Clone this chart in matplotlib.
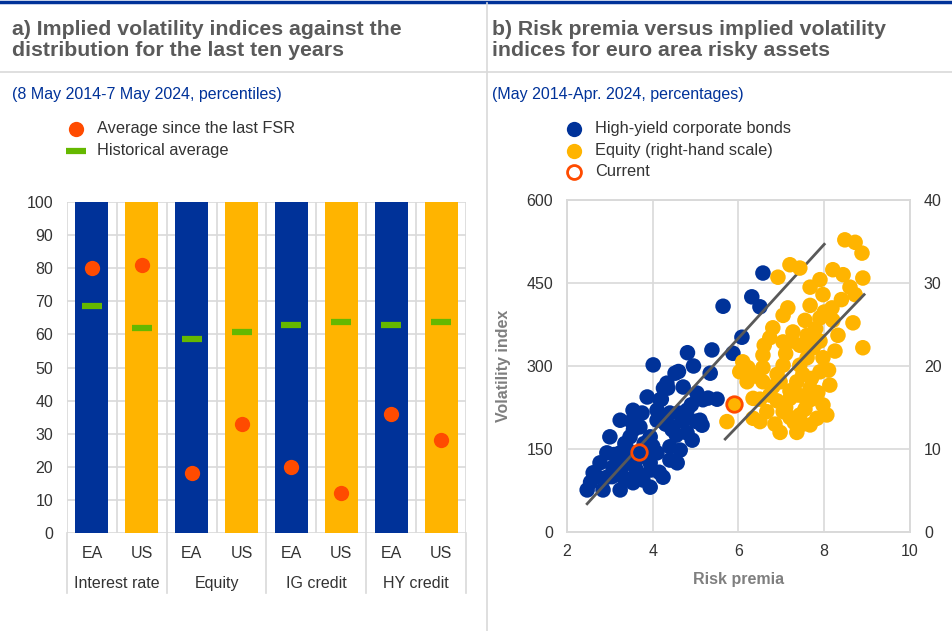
import matplotlib
matplotlib.use("Agg")
import matplotlib.pyplot as plt
from matplotlib.lines import Line2D
import matplotlib.transforms as mtransforms

plt.rcParams['font.family'] = ['Liberation Sans', 'DejaVu Sans']

# ---------------- data: panel a ----------------
bar_labels = ["EA", "US", "EA", "US", "EA", "US", "EA", "US"]
groups = ["Interest rate", "Equity", "IG credit", "HY credit"]
bar_full = [100, 100, 100, 100, 100, 100, 100, 100]
avg_since_fsr = [80, 81, 18, 33, 20, 12, 36, 28]
hist_avg = [68.5, 61.8, 58.6, 60.6, 62.9, 63.7, 62.9, 63.7]

# ---------------- data: panel b ----------------
hy_x = [6.57, 5.64, 6.31, 6.50, 6.08, 5.38, 5.87, 4.81, 5.34, 4.01,
        4.52, 4.71, 4.33, 5.03, 5.17, 5.29, 3.87, 4.80, 3.54, 4.10,
        4.40, 5.10, 5.15, 3.24, 3.70, 4.10, 4.47, 4.80, 4.92, 3.00,
        3.47, 3.94, 4.40, 4.64, 2.93, 3.24, 4.10, 4.40, 4.57, 2.77,
        3.07, 3.47, 3.94, 4.24, 2.61, 2.93, 3.31, 3.63, 3.94, 2.47,
        2.84, 3.24, 3.54, 3.77, 4.17, 3.90, 3.70, 3.80, 4.25, 4.60,
        4.95, 5.50, 3.40, 4.20, 3.60, 4.45, 3.15, 2.70, 3.10, 3.35,
        3.55, 3.75, 4.30, 4.55, 3.30, 3.60, 4.00, 4.25, 4.60, 4.90,
        3.05, 3.45, 3.85, 4.35, 5.00, 2.55, 3.95, 4.15, 3.50, 4.70]
hy_y = [468, 408, 425, 407, 352, 329, 323, 324, 287, 302,
        287, 262, 269, 251, 239, 242, 244, 220, 220, 220,
        215, 202, 193, 202, 190, 202, 190, 179, 166, 172,
        172, 172, 154, 148, 143, 143, 143, 130, 125, 125,
        117, 125, 125, 99, 107, 99, 99, 107, 81, 76,
        76, 76, 89, 94, 239, 160, 140, 160, 260, 290,
        300, 240, 150, 240, 130, 185, 110, 100, 140, 160,
        185, 215, 195, 175, 120, 115, 155, 210, 215, 230,
        100, 95, 135, 260, 200, 90, 112, 108, 200, 200]

eq_x = [8.48, 8.72, 8.88, 7.20, 7.43, 6.92, 8.90, 8.20, 8.44, 7.90,
        7.67, 8.60, 7.97, 8.72, 7.67, 8.18, 7.90, 8.67, 7.04, 6.80,
        7.27, 7.60, 8.32, 8.90, 6.73, 7.04, 6.57, 7.43, 7.74, 7.97,
        6.22, 6.57, 7.04, 7.43, 7.90, 8.13, 6.20, 6.57, 6.97, 7.36,
        7.67, 6.34, 6.73, 7.20, 7.60, 7.97, 6.34, 6.66, 7.04, 7.43,
        7.83, 5.73, 6.50, 6.97, 7.36, 7.67, 8.06, 6.03, 7.20, 7.50,
        7.10, 7.80, 8.40, 7.30, 6.90, 7.60, 8.20, 7.70, 6.50, 6.80,
        7.10, 7.40, 7.70, 6.60, 7.25, 7.90, 8.10, 6.85, 7.50, 6.40,
        7.55, 8.00, 7.15, 7.20, 7.55, 6.90, 7.85, 6.10, 8.25]
eq_y = [35.2, 34.9, 33.6, 32.2, 31.8, 30.7, 30.6, 31.6, 31.0, 30.4,
        29.5, 29.5, 28.6, 28.6, 27.3, 27.0, 25.8, 25.2, 26.1, 24.6,
        24.1, 23.7, 23.7, 22.2, 23.4, 22.9, 21.3, 22.5, 22.2, 21.0,
        19.8, 19.8, 20.1, 20.1, 19.3, 17.7, 18.1, 18.1, 18.1, 18.1,
        17.3, 16.1, 16.5, 16.1, 15.7, 15.3, 13.7, 14.5, 14.5, 14.1,
        13.7, 13.3, 13.3, 12.0, 12.0, 12.9, 14.1, 19.3, 17.0, 19.0,
        21.5, 24.5, 28.0, 13.2, 19.0, 21.0, 25.5, 16.0, 16.0, 17.5,
        15.0, 16.5, 18.5, 22.5, 23.0, 23.0, 19.5, 13.0, 13.0, 18.8,
        25.5, 26.5, 27.0, 13.8, 14.8, 15.8, 16.8, 20.5, 21.8]

hy_current = (3.68, 145)
eq_current = (5.90, 15.4)
hy_fit_x = [2.47, 8.00]
hy_fit_y = [51, 520]
eq_fit_x = [5.69, 8.93]
eq_fit_y = [11.2, 28.6]

# ---------------- styling ----------------
NAVY = "#003299"
YELLOW = "#FFB400"
ORANGE = "#FF4B00"
GREEN = "#65B800"
GRID = "#D9D9D9"
TXT = "#333333"
TITLE = "#5A5A5A"

W, H = 953, 631
fig = plt.figure(figsize=(W / 100, H / 100), dpi=100)

def fx(px):
    return px / W

def fy(py):
    return 1 - py / H

# frame lines
fig.add_artist(Line2D([0, 1], [fy(1.5), fy(1.5)], color=NAVY, lw=2.5, transform=fig.transFigure))
fig.add_artist(Line2D([0, 1], [fy(72), fy(72)], color=GRID, lw=1.2, transform=fig.transFigure))
fig.add_artist(Line2D([fx(487), fx(487)], [fy(3), fy(631)], color=GRID, lw=1.2, transform=fig.transFigure))

# titles
fig.text(fx(12), fy(40), "a) Implied volatility indices against the\ndistribution for the last ten years",
         fontsize=15.3, fontweight='bold', color=TITLE, va='center', ha='left', linespacing=1.15)
fig.text(fx(492), fy(40), "b) Risk premia versus implied volatility\nindices for euro area risky assets",
         fontsize=15.3, fontweight='bold', color=TITLE, va='center', ha='left', linespacing=1.15)
fig.text(fx(12), fy(95), "(8 May 2014-7 May 2024, percentiles)", fontsize=11.5, color=NAVY, va='center')
fig.text(fx(492), fy(95), "(May 2014-Apr. 2024, percentages)", fontsize=11.5, color=NAVY, va='center')

# ---------------- panel a ----------------
ax1 = fig.add_axes([fx(67), fy(533), fx(466) - fx(67), fy(202) - fy(533)])
xpos = list(range(len(bar_labels)))
colors = [NAVY if l == "EA" else YELLOW for l in bar_labels]
ax1.bar(xpos, bar_full, width=0.66, color=colors, zorder=2)
ax1.plot(xpos, hist_avg, linestyle='none', marker='_', markersize=14, mew=4.5,
         color=GREEN, zorder=3)
ax1.plot(xpos, avg_since_fsr, linestyle='none', marker='o', markersize=11,
         color=ORANGE, mec='none', zorder=4)
ax1.set_xlim(-0.5, len(xpos) - 0.5)
ax1.set_ylim(0, 100)
ax1.set_yticks(range(0, 101, 10))
ax1.set_xticks(xpos)
ax1.set_xticklabels(bar_labels)
ax1.set_xticks([i - 0.5 for i in range(len(xpos) + 1)], minor=True)
ax1.grid(True, axis='y', color=GRID, lw=1.2, zorder=0)
ax1.grid(True, axis='x', which='minor', color=GRID, lw=1.2, zorder=0)
ax1.grid(False, axis='x', which='major')
for s in ax1.spines.values():
    s.set_visible(False)
ax1.tick_params(axis='both', which='both', length=0, labelsize=11.5, colors=TXT)
ax1.tick_params(axis='x', pad=9)
ax1.tick_params(axis='y', pad=10)
ax1.set_axisbelow(True)
trans = mtransforms.blended_transform_factory(ax1.transData, ax1.transAxes)
for gi, g in enumerate(groups):
    ax1.text(2 * gi + 0.5, -0.153, g, transform=trans, ha='center', va='center',
             fontsize=11.5, color=TXT)
for b in range(0, len(xpos) + 1, 2):
    ax1.plot([b - 0.5, b - 0.5], [0, -0.18], transform=trans, color=GRID, lw=1.2, clip_on=False)

# legend a (manual)
fig.add_artist(Line2D([fx(76)], [fy(129)], marker='o', markersize=11, color=ORANGE, mec='none',
                      transform=fig.transFigure))
fig.add_artist(Line2D([fx(76)], [fy(151)], marker='_', markersize=14, mew=4.5, color=GREEN,
                      transform=fig.transFigure))
fig.text(fx(97), fy(129), "Average since the last FSR", fontsize=11.8, color=TXT, va='center')
fig.text(fx(97), fy(151), "Historical average", fontsize=11.8, color=TXT, va='center')

# ---------------- panel b ----------------
ax2 = fig.add_axes([fx(567), fy(532), fx(910) - fx(567), fy(200) - fy(532)])
ax3 = ax2.twinx()
ax2.set_xlim(2, 10)
ax2.set_ylim(0, 600)
ax3.set_ylim(0, 40)
ax2.set_xticks([2, 4, 6, 8, 10])
ax2.set_yticks([0, 150, 300, 450, 600])
ax3.set_yticks([0, 10, 20, 30, 40])
ax2.grid(True, color=GRID, lw=1.2, zorder=0)
ax2.set_axisbelow(True)
for a in (ax2, ax3):
    for s in a.spines.values():
        s.set_color(GRID)
        s.set_linewidth(1.2)
    a.tick_params(length=0, labelsize=11.5, colors=TXT)
ax2.tick_params(axis='y', pad=10)
ax3.tick_params(axis='y', pad=10)
ax2.tick_params(axis='x', pad=9)

ax2.scatter(hy_x, hy_y, s=125, color=NAVY, edgecolors='none', zorder=3)
ax2.plot(hy_fit_x, hy_fit_y, color="#595959", lw=2, zorder=4)
ax2.scatter([hy_current[0]], [hy_current[1]], s=125, facecolors=NAVY, edgecolors=ORANGE,
            linewidths=2, zorder=5)
ax3.scatter(eq_x, eq_y, s=125, color=YELLOW, edgecolors='none', zorder=3)
ax3.plot(eq_fit_x, eq_fit_y, color="#595959", lw=2, zorder=4)
ax3.scatter([eq_current[0]], [eq_current[1]], s=125, facecolors=YELLOW, edgecolors=ORANGE,
            linewidths=2, zorder=5)

ax2.set_ylabel("Volatility index", fontsize=11.5, fontweight='bold', color="#7F7F7F", labelpad=11)
ax2.set_xlabel("Risk premia", fontsize=11.5, fontweight='bold', color="#7F7F7F", labelpad=9)

# legend b (manual)
fig.add_artist(Line2D([fx(574)], [fy(129)], marker='o', markersize=11, color=NAVY, mec='none',
                      transform=fig.transFigure))
fig.add_artist(Line2D([fx(574)], [fy(151)], marker='o', markersize=11, color=YELLOW, mec='none',
                      transform=fig.transFigure))
fig.add_artist(Line2D([fx(574)], [fy(172)], marker='o', markersize=10, mfc='white', mec=ORANGE,
                      mew=2, transform=fig.transFigure))
fig.text(fx(595), fy(129), "High-yield corporate bonds", fontsize=11.8, color=TXT, va='center')
fig.text(fx(595), fy(151), "Equity (right-hand scale)", fontsize=11.8, color=TXT, va='center')
fig.text(fx(595), fy(172), "Current", fontsize=11.8, color=TXT, va='center')

fig.savefig("out.png", dpi=100)
